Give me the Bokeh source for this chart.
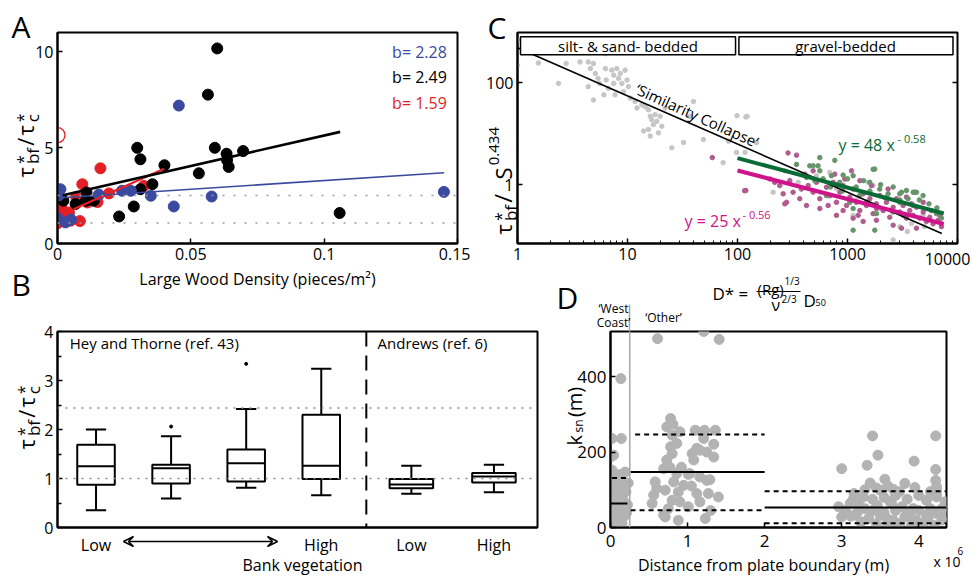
import math
from bokeh.plotting import figure
from bokeh.layouts import row, column
from bokeh.models import (Label, Arrow, VeeHead, FixedTicker, LogTickFormatter, LogAxis, Span,
                          GridBox)
from bokeh.embed import file_html
from bokeh.resources import INLINE

FONT = "Open Sans"

# ======================= DATA =======================
# ---- Panel A : tau*bf/tau*c vs large wood density
a_black = [(0.0599, 10.17), (0.0564, 7.76), (0.0299, 4.99), (0.0311, 4.39), (0.0401, 4.08),
           (0.0590, 4.99), (0.0634, 4.68), (0.0636, 4.34), (0.0642, 3.99), (0.0696, 4.82),
           (0.0530, 3.66), (0.0356, 3.09), (0.0311, 2.83), (0.0286, 1.93), (0.0231, 1.41),
           (0.1058, 1.59), (0.0, 2.78), (0.0022, 2.23), (0.0068, 2.06), (0.0109, 2.66),
           (0.0107, 2.23), (0.0136, 2.23)]
a_red = [(0.0161, 3.92), (0.0093, 3.09), (0.0070, 2.42), (0.0112, 2.14), (0.0150, 2.16),
         (0.0193, 2.61), (0.0324, 3.00), (0.0084, 1.17), (0.0, 2.35), (0.0, 1.62),
         (0.0011, 1.71), (0.0043, 1.62), (0.0049, 1.19), (0.0, 1.05), (0.0025, 1.45),
         (0.0015, 1.85)]
a_blue = [(0.0455, 7.19), (0.0011, 2.83), (0.0004, 2.50), (0.0155, 2.55), (0.0242, 2.75),
          (0.0275, 2.75), (0.0350, 2.49), (0.0436, 1.93), (0.0578, 2.45), (0.1449, 2.69),
          (0.0, 1.33), (0.0030, 1.10), (0.0051, 1.25)]
a_red_open = [(0.0, 5.65)]
a_fit_black_x, a_fit_black_y = [0.002, 0.106], [2.52, 5.82]
a_fit_blue_x, a_fit_blue_y = [0.0, 0.145], [2.37, 3.69]
a_fit_red_x, a_fit_red_y = [0.006, 0.040], [1.78, 3.90]
a_b_labels = ["b= 2.28", "b= 2.49", "b= 1.59"]
a_ref_lines = [1.07, 2.50]
a_xticks = [0, 0.05, 0.1, 0.15]
a_xtick_labels = ["0", "0.05", "0.1", "0.15"]
a_yticks = [0, 5, 10]

# ---- Panel B : box plots
b_pos = [1, 2, 3, 4, 5.2, 6.3]
b_wlo = [0.35, 0.59, 0.81, 0.66, 0.69, 0.72]
b_q1 = [0.87, 0.90, 0.94, 0.99, 0.80, 0.92]
b_med = [1.25, 1.21, 1.31, 1.26, 0.88, 1.04]
b_q3 = [1.69, 1.28, 1.59, 2.30, 0.99, 1.11]
b_whi = [2.00, 1.86, 2.42, 3.24, 1.26, 1.28]
b_out_x = [2, 3]
b_out_y = [2.06, 3.34]
b_tick_pos = [1, 4, 5.2, 6.3]
b_tick_labels = ["Low", "High", "Low", "High"]
b_ref_lines = [1.0, 2.44]
b_group_split = 4.6
b_groups = ["Hey and Thorne (ref. 43)", "Andrews (ref. 6)"]

# ---- Panel C : D* vs tau*bf/S^0.434
c_gray = [(1.0, 700), (1.0, 220), (1.55, 244), (2.36, 97), (2.77, 238), (3.7, 256), (4.4, 256),
          (4.9, 238), (4.6, 190), (4.4, 84), (5.1, 152), (5.4, 122), (5.6, 97), (6.3, 190),
          (6.4, 113), (6.7, 78), (7.2, 177), (7.5, 141), (7.5, 97), (7.7, 58), (8.0, 190),
          (8.3, 122), (8.6, 152), (8.9, 97), (9.2, 67), (9.5, 177), (9.9, 113), (10.2, 84),
          (10.6, 50), (4.9, 46), (6.1, 58), (6.3, 372), (11.7, 43), (12.2, 32), (13.5, 37),
          (14.5, 34), (15.5, 29.5), (16.1, 21.9), (16.6, 18.9), (17.2, 15.1), (15.5, 12.1),
          (17.8, 23.6), (18.5, 17.5), (19.1, 10.4), (19.8, 21.9), (20.5, 14.0), (16.1, 9.0),
          (14.0, 11.3), (25.3, 5.3), (32.3, 6.7), (37, 21.9), (39.8, 43), (49, 7.7), (83, 7.1),
          (122, 21.9), (117, 4.3), (22, 32), (99, 22.6), (119, 21.3), (74, 2.7), (98, 4.3),
          (149, 6.7), (211, 0.71), (269, 1.87), (356, 1.11), (523, 1.50), (561, 0.71),
          (794, 0.83), (1540, 1.11), (1710, 0.96), (2600, 0.082), (2990, 0.149), (3820, 0.173),
          (4870, 0.25), (2990, 0.455), (1125, 0.25), (1970, 0.337), (690, 1.74), (2300, 0.6),
          (5000, 0.15), (3500, 0.12), (1200, 0.5), (700, 0.6)]
c_purple = [(119, 0.77), (197, 1.29), (279, 0.45), (288, 4.2), (344, 3.8), (242, 0.96), (299, 1.20),
            (368, 0.53), (409, 1.61), (439, 0.96), (487, 0.71), (522, 1.11), (560, 0.53),
            (644, 0.89), (690, 0.61), (740, 1.11), (794, 0.45), (851, 0.71), (912, 0.96),
            (980, 0.39), (1050, 0.57), (1125, 0.82), (1205, 0.45), (1294, 0.31), (1387, 0.66),
            (1486, 0.39), (1596, 0.53), (1710, 0.27), (1832, 0.42), (1968, 0.61), (2109, 0.31),
            (2259, 0.45), (2421, 0.23), (2600, 0.36), (2786, 0.53), (2985, 0.29), (3206, 0.39),
            (3436, 0.22), (3681, 0.31), (3954, 0.25), (4236, 0.36), (4539, 0.22), (4875, 0.29),
            (5224, 0.19), (5598, 0.23), (5998, 0.17), (6668, 0.20), (7145, 0.15), (794, 0.25),
            (1125, 0.22), (1387, 0.19), (560, 0.34), (424, 0.39), (320, 0.71), (260, 0.66),
            (218, 1.11), (945, 1.29), (1832, 0.20), (2600, 0.16), (3097, 0.14), (4236, 0.14),
            (1087, 1.87), (1294, 1.20), (1652, 0.96), (2339, 0.82), (3436, 0.57), (4875, 0.45),
            (766, 1.61), (487, 1.87), (381, 0.82), (667, 0.39), (912, 0.31), (1250, 0.25),
            (1832, 0.34), (2512, 0.31), (3811, 0.42), (5794, 0.31), (6902, 0.25), (59, 3.4),
            (116, 0.76), (269, 0.42)]
c_green = [(487, 2.34), (540, 2.34), (560, 1.87), (766, 3.0), (1770, 2.02), (912, 1.54), (714, 1.50),
           (1125, 1.50), (424, 1.39), (504, 1.20), (851, 1.11), (1594, 1.11), (1963, 0.82),
           (2985, 0.66), (3436, 0.77), (4083, 0.71), (4864, 0.61), (2339, 0.66), (1291, 0.61),
           (1125, 0.34), (1125, 0.128), (1770, 0.128), (2594, 0.29), (3199, 0.25), (7145, 0.22),
           (6430, 0.27), (643, 0.61), (1050, 0.45), (1486, 0.45), (1832, 0.27), (2985, 0.45),
           (3556, 0.53), (3945, 0.39), (1710, 2.0), (3097, 0.71), (3954, 0.71), (4236, 0.71),
           (560, 3.4), (344, 2.5), (454, 2.34), (2000, 1.0), (2600, 0.9), (1400, 1.2), (800, 1.0),
           (600, 1.3), (1000, 1.3), (1200, 0.9), (4500, 0.5), (5500, 0.42), (6500, 0.35),
           (2200, 0.55), (3000, 0.5), (1600, 0.75), (900, 0.75), (700, 0.9)]
c_collapse_x, c_collapse_y = [1.0, 7200.0], [487.0, 0.110]
c_fit_green = (48.0, -0.58)
c_fit_magenta = (25.0, -0.56)
c_fit_x = [100.0, 7500.0]
c_regimes = ["silt- & sand- bedded", "gravel-bedded"]
c_regime_split = 100.0
c_yticks = [1, 100]

# ---- Panel D : k_sn vs distance from plate boundary (x in 1e6 m)
d_west = [(0.135, 395), (0.02, 236), (0.14, 236), (0.0, 187), (0.04, 192), (0.02, 152), (0.19, 147),
          (0.23, 118), (0.05, 130), (0.10, 120), (0.02, 110), (0.08, 100), (0.15, 100), (0.20, 95),
          (0.04, 90), (0.12, 85), (0.00, 80), (0.07, 75), (0.17, 70), (0.03, 65), (0.10, 60),
          (0.20, 55), (0.05, 50), (0.13, 45), (0.00, 40), (0.08, 35), (0.18, 30), (0.03, 25),
          (0.11, 20), (0.06, 15), (0.15, 10), (0.02, 8), (0.09, 5), (0.21, 40), (0.22, 60),
          (0.00, 105), (0.16, 115), (0.11, 140), (0.07, 128), (0.13, 75)]
d_other = [(0.61, 501), (1.21, 520), (1.41, 499), (0.78, 289), (0.73, 267), (0.90, 254), (1.10, 258),
           (1.22, 258), (1.36, 258), (0.80, 245), (0.78, 214), (1.12, 210), (1.34, 221), (0.80, 196),
           (1.06, 196), (1.25, 200), (1.34, 187), (1.08, 179), (0.73, 179), (0.69, 156), (0.86, 143),
           (1.01, 141), (1.16, 134), (0.58, 121), (0.82, 121), (0.95, 112), (1.25, 125), (0.71, 99),
           (0.88, 94), (1.12, 90), (1.27, 90), (1.40, 81), (0.56, 86), (0.54, 64), (0.80, 72),
           (0.90, 68), (1.01, 55), (1.16, 68), (0.71, 28), (0.88, 19), (1.23, 24), (1.29, 127),
           (1.21, 236), (0.81, 274), (0.77, 160), (0.86, 223), (1.16, 205), (0.69, 33), (1.03, 143),
           (0.60, 104), (0.92, 160), (1.05, 110), (0.75, 50), (1.30, 45)]
d_east = [(3.40, 243), (4.22, 243), (3.47, 192), (3.33, 165), (3.00, 156), (3.94, 176), (4.22, 154),
          (3.37, 118), (3.56, 128), (3.82, 117), (3.95, 106), (4.22, 125), (3.16, 90), (3.28, 81),
          (3.50, 99), (3.67, 101), (4.10, 72), (4.23, 81), (4.34, 68), (2.96, 55), (3.11, 64),
          (3.30, 50), (3.46, 59), (3.63, 68), (3.78, 55), (3.93, 50), (3.00, 28), (3.17, 33),
          (3.35, 24), (3.50, 33), (3.67, 19), (3.82, 28), (3.97, 19), (4.10, 33), (4.23, 37),
          (4.34, 33), (4.23, 99), (4.23, 108), (4.23, 90), (3.05, 45), (3.20, 40), (3.25, 15),
          (3.40, 45), (3.45, 10), (3.55, 40), (3.60, 5), (3.70, 45), (3.75, 10), (3.85, 40),
          (3.90, 5), (4.00, 45), (4.05, 10), (4.15, 50), (4.20, 5), (4.30, 20), (4.30, 50),
          (3.15, 75), (3.40, 75), (3.55, 80), (3.70, 85), (3.85, 75), (4.00, 85), (4.15, 95),
          (3.60, 110), (3.45, 105), (3.30, 100), (3.75, 95), (3.12, 30), (3.58, 25), (3.88, 30),
          (4.12, 25), (3.22, 60), (3.65, 62)]
d_seg_x0 = [0.0, 0.26, 2.0]
d_seg_x1 = [0.22, 2.0, 4.36]
d_median = [64, 147, 53]
d_upper = [131, 247, 96]
d_lower = [None, 46, 11]
d_upper_x0 = [0.02, 0.32, 2.0]
d_west_boundary = 0.25
d_regions = ["\u2018West", "Coast\u2019", "\u2018Other\u2019"]

# ======================= HELPERS =======================
EM = {'τ': 0.52, '*': 0.55, 'b': 0.61, 'f': 0.35, '/': 0.37, 'c': 0.48, 'S': 0.55, '0': 0.57,
      '.': 0.27, '4': 0.57, '3': 0.57, ' ': 0.26, 'k': 0.53, 's': 0.46, 'n': 0.61, '(': 0.3,
      ')': 0.3, 'm': 0.93}


def tw(s, size):
    return sum(EM.get(ch, 0.55) for ch in s) * size


def style(p, size="16px"):
    p.xgrid.visible = False
    p.ygrid.visible = False
    p.outline_line_color = "black"
    p.outline_line_width = 2
    p.outline_line_alpha = 1
    p.background_fill_color = "white"
    p.border_fill_color = "white"
    for ax in p.axis:
        ax.axis_line_width = 2
        ax.axis_line_color = "black"
        ax.major_tick_in = 5
        ax.major_tick_out = 0
        ax.minor_tick_in = 0
        ax.minor_tick_out = 0
        ax.major_tick_line_width = 1.5
        ax.major_label_text_font = FONT
        ax.major_label_text_font_size = size
        ax.major_label_text_color = "black"
        ax.major_label_standoff = 4


def xs(pts):
    return [q[0] for q in pts]


def ys(pts):
    return [q[1] for q in pts]


def inner(p, x, y, text, size, color="black", align="left", baseline="middle", angle=0.0):
    p.add_layout(Label(x=x, y=y, text=text, text_font=FONT, text_font_size=f"{size}px",
                       text_color=color, text_align=align, text_baseline=baseline, angle=angle))


# transparent overlay figure whose coordinates are page pixels (for texts outside frames)
W, H = 971, 576
ov = figure(width=W, height=H, x_range=(0, W), y_range=(H, 0), output_backend="svg",
            toolbar_location=None, min_border=0, x_axis_location=None, y_axis_location=None,
            title=None)
ov.grid.visible = False
ov.outline_line_color = None
ov.background_fill_color = None
ov.border_fill_color = None


def ot(px, py, text, size, color="black", align="left", baseline="alphabetic", angle=0.0):
    ov.add_layout(Label(x=px, y=py, text=text, text_font=FONT, text_font_size=f"{size}px",
                        text_color=color, text_align=align, text_baseline=baseline, angle=angle))


def ovl(bx, by, pieces, gap=2.0):
    y = by
    for s, size, shift, adv in pieces:
        ot(bx + shift, y, s, size, angle=math.pi / 2)
        if adv:
            y -= tw(s, size) + gap


def oseg(x0, y0, x1, y1, color="black", width=1.5, start=None, end=None):
    ov.add_layout(Arrow(x_start=x0, y_start=y0, x_end=x1, y_end=y1, start=start, end=end,
                        line_color=color, line_width=width))


BLUE = "#3b4a9e"
RED = "#e41f26"
TAU_LABEL = [("τ", 22, 0, True), ("*", 16, -2, False), ("bf", 17, 8, True),
             ("/", 22, 0, True), ("τ", 22, 0, True), ("*", 16, -2, False), ("c", 17, 8, True)]

# ======================= PANEL A =======================
pA = figure(width=470, height=300, x_range=(0, 0.15), y_range=(0, 11), output_backend="svg",
            toolbar_location=None, min_border_left=57, min_border_right=13,
            min_border_top=31, min_border_bottom=57)
style(pA)
pA.xaxis.ticker = FixedTicker(ticks=a_xticks)
pA.xaxis.major_label_overrides = dict(zip(a_xticks, a_xtick_labels))
pA.yaxis.ticker = FixedTicker(ticks=a_yticks)
for v in a_ref_lines:
    pA.add_layout(Span(location=v, dimension="width", line_color="#9a9a9a", line_width=1.6,
                       line_dash="2 9"))
pA.scatter(xs(a_red), ys(a_red), size=11, color=RED)
pA.scatter(xs(a_black), ys(a_black), size=11, color="black")
pA.scatter(xs(a_blue), ys(a_blue), size=11, color=BLUE)
pA.scatter(xs(a_red_open), ys(a_red_open), size=15, fill_color=None, line_color=RED,
           line_width=1.3)
pA.line(a_fit_red_x, a_fit_red_y, line_color=RED, line_width=2.2)
pA.line(a_fit_black_x, a_fit_black_y, line_color="black", line_width=2.6)
pA.line(a_fit_blue_x, a_fit_blue_y, line_color=BLUE, line_width=1.6)
for lab, col, yv in zip(a_b_labels, [BLUE, "black", RED], [10.0, 8.7, 7.35]):
    inner(pA, 0.146, yv, lab, 16, color=col, align="right")
ot(11, 26, "A", 30, baseline="middle")
ot(11, 284, "B", 30, baseline="middle")
ot(257, 278, "Large Wood Density (pieces/m\u00b2)", 16, align="center", baseline="middle")
ovl(24, 177, TAU_LABEL)

# ======================= PANEL C =======================
pC = figure(width=501, height=300, x_axis_type="log", y_axis_type="log",
            x_range=(1, 10000), y_range=(0.07, 970), output_backend="svg", toolbar_location=None,
            min_border_left=47, min_border_right=14, min_border_top=32, min_border_bottom=55)
style(pC)
pC.xaxis.formatter = LogTickFormatter(min_exponent=6)
pC.xaxis.major_label_overrides = {10000: ""}
pC.xaxis.minor_tick_in = 3
pC.yaxis.ticker = FixedTicker(ticks=c_yticks)
pC.yaxis.formatter = LogTickFormatter(min_exponent=6)
rax = LogAxis(ticker=FixedTicker(ticks=c_yticks), major_label_overrides={1: "", 100: ""},
              major_label_standoff=0, major_tick_in=5, major_tick_out=0, axis_line_color=None,
              major_tick_line_width=1.5, major_label_text_font_size="10px")
pC.add_layout(rax, "right")
pC.scatter(xs(c_gray), ys(c_gray), size=4.5, color="#c6c6c6")
pC.scatter(xs(c_purple), ys(c_purple), size=4.5, color="#b05c8e")
pC.scatter(xs(c_green), ys(c_green), size=4.5, color="#66956a")
pC.line(c_collapse_x, c_collapse_y, line_color="black", line_width=1.6)
pC.line(c_fit_x, [c_fit_green[0] * x ** c_fit_green[1] for x in c_fit_x],
        line_color="#0b6b37", line_width=4)
pC.line(c_fit_x, [c_fit_magenta[0] * x ** c_fit_magenta[1] for x in c_fit_x],
        line_color="#d0128b", line_width=4)
pC.quad(left=[1.065, c_regime_split * 1.03], right=[c_regime_split * 0.96, 9100],
        bottom=[353, 353], top=[800, 800], fill_color="white", line_color="black",
        line_width=1.5)
inner(pC, 10.1, 523, c_regimes[0], 15, align="center")
inner(pC, 960, 523, c_regimes[1], 15, align="center")
inner(pC, 43, 23, "\u2018Similarity Collapse\u2019", 15, align="center",
      angle=-math.radians(24.2))
inner(pC, 828, 6.1, "y = 48 x", 16, color="#0b6b37", baseline="alphabetic")
inner(pC, 2850, 8.0, "- 0.58", 11, color="#0b6b37", baseline="alphabetic")
inner(pC, 33, 0.196, "y = 25 x", 16, color="#d0128b", baseline="alphabetic")
inner(pC, 111, 0.256, "- 0.56", 11, color="#d0128b", baseline="alphabetic")
ot(947, 258, "10000", 16, align="center", baseline="middle")
ot(487, 27, "C", 30, baseline="middle")
ot(556, 297, "D", 30, baseline="middle")
# x label: D* = (Rg)^(1/3) / nu^(2/3) D50
ot(712, 293, "D* =", 17)
ot(757, 288, "(Rg)", 15)
ot(784, 280, "1/3", 10)
oseg(756, 291, 800, 291, width=1.2)
ot(771, 304, "ν", 16)
ot(781, 298, "2/3", 10)
ot(803, 300, "D", 17)
ot(815, 302, "50", 9)
ovl(502, 234, [("τ", 22, 0, True), ("*", 16, -2, False), ("bf", 17, 8, True),
               (" / ", 24, 0, True), ("S", 22, 0, True), ("0.434", 15, -9, True)])

# ======================= PANEL B =======================
pB = figure(width=545, height=276, x_range=(0.487, 6.88), y_range=(0, 4), output_backend="svg",
            toolbar_location=None, min_border_left=57, min_border_right=8,
            min_border_top=11, min_border_bottom=49)
style(pB)
pB.xaxis.ticker = FixedTicker(ticks=b_tick_pos)
pB.xaxis.major_label_overrides = dict(zip(b_tick_pos, b_tick_labels))
pB.xaxis.major_tick_line_color = None
pB.xaxis.major_label_standoff = 6
pB.yaxis.ticker = FixedTicker(ticks=[0, 1, 2, 3, 4], minor_ticks=[0.5, 1.5, 2.5, 3.5])
pB.yaxis.minor_tick_in = 4
pB.yaxis.minor_tick_line_width = 1.5
for v in b_ref_lines:
    pB.add_layout(Span(location=v, dimension="width", line_color="#8a8a8a", line_width=1.6,
                       line_dash="2 6"))
pB.add_layout(Span(location=b_group_split, dimension="height", line_color="black",
                   line_width=2, line_dash="15 9"))
bw = [0.5 if x < b_group_split else 0.58 for x in b_pos]
cw = 0.27
pB.quad(left=[x - w / 2 for x, w in zip(b_pos, bw)], right=[x + w / 2 for x, w in zip(b_pos, bw)],
        bottom=b_q1, top=b_q3, fill_color=None, line_color="black", line_width=2)
pB.segment(x0=[x - w / 2 for x, w in zip(b_pos, bw)], x1=[x + w / 2 for x, w in zip(b_pos, bw)],
           y0=b_med, y1=b_med, line_color="black", line_width=2)
pB.segment(x0=b_pos, x1=b_pos, y0=b_q3, y1=b_whi, line_color="black", line_width=2)
pB.segment(x0=b_pos, x1=b_pos, y0=b_wlo, y1=b_q1, line_color="black", line_width=2)
pB.segment(x0=[x - cw / 2 for x in b_pos], x1=[x + cw / 2 for x in b_pos], y0=b_whi, y1=b_whi,
           line_color="black", line_width=2)
pB.segment(x0=[x - cw / 2 for x in b_pos], x1=[x + cw / 2 for x in b_pos], y0=b_wlo, y1=b_wlo,
           line_color="black", line_width=2)
pB.scatter(b_out_x, b_out_y, size=3, color="black")
inner(pB, 0.65, 3.76, b_groups[0], 15)
inner(pB, 4.75, 3.76, b_groups[1], 15)
oseg(123, 541, 277, 541, width=1.5,
     start=VeeHead(size=10, line_width=1.5, fill_color=None),
     end=VeeHead(size=10, line_width=1.5, fill_color=None))
ot(302, 564, "Bank vegetation", 16, align="center", baseline="middle")
ovl(25, 449, TAU_LABEL)

# ======================= PANEL D =======================
pD = figure(width=426, height=276, x_range=(0, 4.36), y_range=(0, 520), output_backend="svg",
            toolbar_location=None, min_border_left=65, min_border_right=25,
            min_border_top=31, min_border_bottom=49)
style(pD, "17px")
pD.xaxis.ticker = FixedTicker(ticks=[0, 1, 2, 3, 4])
pD.xaxis.major_label_standoff = 7
pD.yaxis.ticker = FixedTicker(ticks=[0, 200, 400])
GRAY = "#b3b3b3"
for pts in (d_west, d_other, d_east):
    pD.scatter(xs(pts), ys(pts), size=10, color=GRAY)
pD.add_layout(Span(location=d_west_boundary, dimension="height", line_color="#a8a8a8",
                   line_width=1.5))
oseg(629, 304, 629, 331, color="#a8a8a8", width=1.5)
pD.segment(x0=d_seg_x0, x1=d_seg_x1, y0=d_median, y1=d_median, line_color="black",
           line_width=2)
pD.segment(x0=d_upper_x0, x1=d_seg_x1, y0=d_upper, y1=d_upper, line_color="black",
           line_width=2, line_dash="5 4")
lo_i = [i for i, v in enumerate(d_lower) if v is not None]
pD.segment(x0=[d_seg_x0[i] for i in lo_i], x1=[d_seg_x1[i] for i in lo_i],
           y0=[d_lower[i] for i in lo_i], y1=[d_lower[i] for i in lo_i], line_color="black",
           line_width=2, line_dash="5 4")
ot(613, 308, d_regions[0], 12, align="center", baseline="middle")
ot(613, 322, d_regions[1], 12, align="center", baseline="middle")
ot(663, 317, d_regions[2], 12, align="center", baseline="middle")
ot(763, 564, "Distance from plate boundary (m)", 16, align="center", baseline="middle")
ot(933, 561, "x 10", 14)
ot(957, 550, "6", 10)
ovl(574, 445, [("k", 20, 0, True), ("sn", 12, 4, True), (" (m)", 20, 0, True)], gap=2.5)

panels = column(row(pA, pC), row(pB, pD))
layout = GridBox(children=[(panels, 0, 0), (ov, 0, 0)])
open("out.html", "w").write(file_html(layout, INLINE))
